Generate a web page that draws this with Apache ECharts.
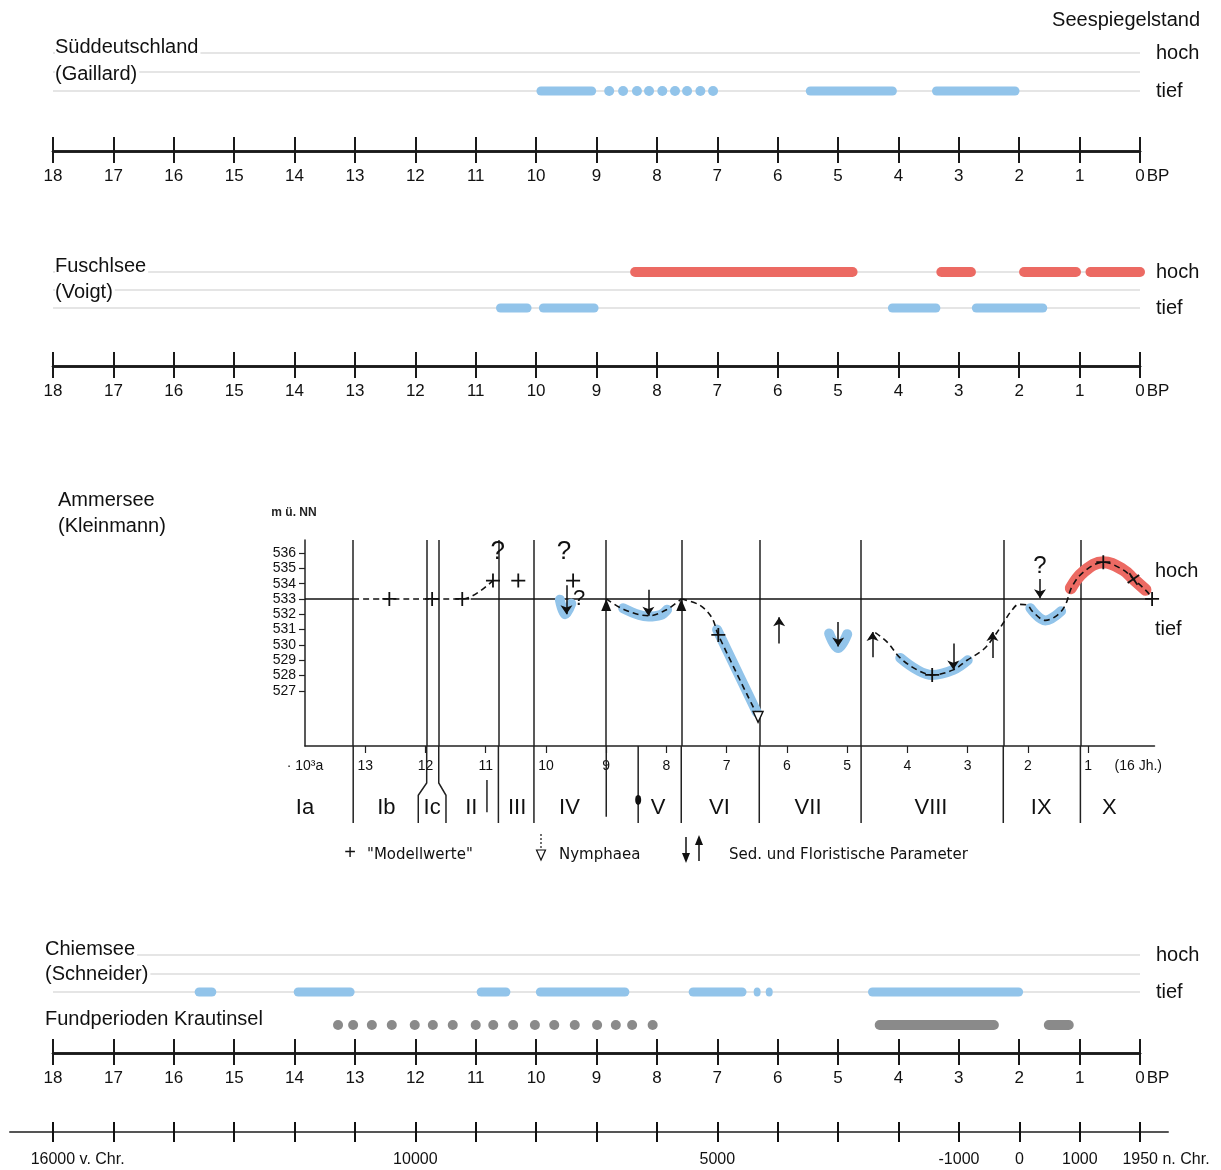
<!DOCTYPE html>
<html><head><meta charset="utf-8">
<script src="https://cdn.jsdelivr.net/npm/echarts@6/dist/echarts.min.js"></script>
<style>html,body{margin:0;padding:0;background:#fff}#c{width:1221px;height:1170px}</style>
</head><body><div id="c"></div>
<script>
// ---------- data (ka BP) ----------
const levelLabels = ['tief', '', 'hoch'];
const bpTickValues = [18,17,16,15,14,13,12,11,10,9,8,7,6,5,4,3,2,1,0];

const suedBlueBars = [[9.92, 9.08], [5.46, 4.10], [3.37, 2.07]];
const suedBlueDots = [8.79, 8.56, 8.33, 8.13, 7.91, 7.70, 7.50, 7.28, 7.07];

const fuschlRedBars = [[8.36, 4.76], [3.29, 2.80], [1.92, 1.06], [0.82, 0.0]];
const fuschlBlueBars = [[10.59, 10.15], [9.88, 9.04], [4.10, 3.38], [2.71, 1.61]];

const chiemBlueBars = [[15.58, 15.37], [13.94, 13.08], [10.91, 10.50], [9.93, 8.53], [7.40, 6.59], [4.43, 2.01]];
const chiemBlueDots = [6.34, 6.14];
const krautDots = [13.28, 13.03, 12.72, 12.39, 12.01, 11.71, 11.38, 11.0, 10.71, 10.38, 10.02, 9.70, 9.36, 8.99, 8.68, 8.41, 8.07];
const krautBars = [[4.31, 2.42], [1.51, 1.18]];

const calTickBP = [18, 12, 7, 3, 2, 1, 0];
const calTickLabels = ['16000 v. Chr.', '10000', '5000', '-1000', '0', '1000', '1950 n. Chr.'];

// ---------- Ammersee (Kleinmann), x in 10^3 a, y in m ü. NN ----------
const ammXLabelVals = [14, 13, 12, 11, 10, 9, 8, 7, 6, 5, 4, 3, 2, 1, 0.17];
const ammXLabels = ['· 10³a', '13', '12', '11', '10', '9', '8', '7', '6', '5', '4', '3', '2', '1', '(16 Jh.)'];
const ammXTicks = [13, 12, 11, 10, 9, 8, 7, 6, 5, 4, 3, 2, 1];
const ammYTicks = [527, 528, 529, 530, 531, 532, 533, 534, 535, 536];
const ammRefLine = [[[14, 533], [13.2, 533]], [[11.25, 533], [-0.06, 533]]];
const ammModelCurves = [
  [[13.2, 533], [12.6, 533], [11.89, 533], [11.39, 533], [10.88, 534.2]],
  [[9.0, 533], [8.7, 532.3], [8.3, 531.9], [8.0, 532.3], [7.755, 533]],
  [[7.755, 533], [7.45, 532.6], [7.25, 531.8], [7.14, 530.65], [6.48, 525.3]],
  [[4.535, 530.8], [4.34, 530.2], [4.12, 529.15], [3.84, 528.37], [3.59, 528.04], [3.24, 528.37], [3.01, 529.0],
   [2.74, 529.7], [2.58, 530.45], [2.41, 531.43], [2.28, 532.2], [2.15, 532.65], [2.01, 532.6], [1.93, 532.2],
   [1.71, 531.6], [1.51, 531.95], [1.38, 532.6], [1.27, 533.8], [1.08, 534.76], [0.75, 535.4], [0.42, 534.9],
   [0.25, 534.3], [0.02, 533.46], [-0.06, 533]]
];
const ammBlueBands = [
  [[9.77, 532.95], [9.68, 532.0], [9.58, 532.7]],
  [[8.72, 532.4], [8.45, 531.95], [8.3, 531.85], [8.1, 531.95], [7.99, 532.3]],
  [[7.16, 531.0], [6.5, 525.6]],
  [[5.30, 530.75], [5.15, 529.8], [5.0, 530.7]],
  [[4.12, 529.15], [3.84, 528.37], [3.59, 528.04], [3.24, 528.37], [3.0, 529.0]],
  [[1.96, 532.4], [1.71, 531.6], [1.45, 532.2]]
];
const ammRedBands = [
  [[1.29, 533.7], [1.08, 534.76], [0.75, 535.4], [0.42, 534.9], [0.25, 534.3], [0.05, 533.6]]
];
const ammModelPoints = [[12.6, 533], [11.89, 533], [11.39, 533], [10.88, 534.2], [10.46, 534.2], [9.55, 534.2],
  [7.14, 530.65], [3.59, 528.04], [0.75, 535.4], [0.25, 534.3], [-0.06, 533]];
const ammDownArrows = [[9.66, 533.9, 532.0], [8.30, 533.6, 531.9], [5.15, 531.5, 529.9], [3.24, 530.1, 528.4], [1.8, 534.3, 533.05]];
const ammUpArrows = [[6.13, 530.1, 531.8], [4.58, 529.2, 530.85], [2.59, 529.15, 530.85]];
const ammUpTriangles = [[9.0, 532.6], [7.755, 532.6]];
const ammNymphaea = [[6.48, 525.3]];
const ammQuestions = [[10.8, 536.1, 26], [9.7, 536.1, 26], [9.45, 533.0, 22], [1.8, 535.1, 24]];
const ammZoneBounds = [13.2, 11.98, 11.78, 10.79, 10.2, 9.0, 7.755, 6.46, 4.77, 2.41, 1.13];
const ammZoneLower = [
  [[13.2, 1], [13.2, 0]],
  [[11.98, 1], [11.98, 0.52], [12.12, 0.36], [12.12, 0]],
  [[11.78, 1], [11.78, 0.52], [11.66, 0.36], [11.66, 0]],
  [[10.98, 0.56], [10.98, 0.14]],
  [[10.79, 1], [10.79, 0]],
  [[10.2, 1], [10.2, 0]],
  [[9.0, 1], [9.0, 0.08]],
  [[8.47, 1], [8.47, 0]],
  [[7.755, 1], [7.755, 0]],
  [[6.46, 1], [6.46, 0]],
  [[4.77, 1], [4.77, 0]],
  [[2.41, 1], [2.41, 0]],
  [[1.13, 1], [1.13, 0]]
];
const ammZoneNames = ['Ia', 'Ib', 'Ic', 'II', 'III', 'IV', 'V', 'VI', 'VII', 'VIII', 'IX', 'X'];
const ammZoneCenters = [14.0, 12.65, 11.89, 11.24, 10.48, 9.61, 8.14, 7.12, 5.65, 3.61, 1.78, 0.65];
const ammZoneDots = [[8.47, 0.30]];

// ---------- style ----------
const FONT = '"Liberation Sans", Arial, sans-serif';
const BLUE = '#92c4ea', RED = '#ec6a63', GRAY = '#8a8a8a', LEVEL = '#dcdcdc', INK = '#111';
const AMM_YMIN = 523.4, AMM_YMAX = 536.85;

const ctx = document.createElement('canvas').getContext('2d');
function textW(t, size) { ctx.font = size + 'px "Liberation Sans"'; return ctx.measureText(t).width; }

const bpRich = {
  n: { fontSize: 17, fontFamily: FONT, color: INK },
  p: { width: textW('BP', 17) + 2 },
  s: { fontSize: 17, fontFamily: FONT, color: INK, padding: [0, 0, 0, 2] }
};
function bpFmt(v) { return v === 0 ? '{p|}{n|0}{s|BP}' : String(v); }

const calRich = {
  n: { fontSize: 16, fontFamily: FONT, color: INK },
  p1: { width: textW(' v. Chr.', 16) },
  p2: { width: textW(' n. Chr.', 16) },
  s: { fontSize: 16, fontFamily: FONT, color: INK }
};
function calFmt(v) {
  const i = calTickBP.indexOf(v);
  if (i < 0) return '';
  const lbl = calTickLabels[i];
  const k = lbl.indexOf(' ');
  if (k < 0) return '{n|' + lbl + '}';
  const suf = lbl.slice(k);
  return '{' + (suf.indexOf('v.') >= 0 ? 'p1' : 'p2') + '|}{n|' + lbl.slice(0, k) + '}{s|' + suf + '}';
}
const calEdgeBP = calTickBP.filter((v, i) => calTickLabels[i].indexOf(' ') >= 0);
const calInnerBP = calTickBP.filter((v, i) => calTickLabels[i].indexOf(' ') < 0);

function bpAxes(grid, offset) {
  const base = { gridIndex: grid, type: 'value', min: 0, max: 18, interval: 1, inverse: true, position: 'bottom', offset,
    axisLine: { show: true, onZero: false, lineStyle: { color: '#1a1a1a', width: 2.5 } }, splitLine: { show: false } };
  return [
    Object.assign({}, base, {
      axisTick: { show: true, inside: true, length: 14, lineStyle: { color: '#1a1a1a', width: 2 } },
      axisLabel: { show: true, margin: 17, formatter: bpFmt, rich: bpRich, color: INK, fontSize: 17, fontFamily: FONT,
        showMinLabel: true, showMaxLabel: true }
    }),
    Object.assign({}, base, {
      axisTick: { show: true, inside: false, length: 12, lineStyle: { color: '#1a1a1a', width: 2 } },
      axisLabel: { show: false }
    })
  ];
}
function levelAxis(grid) {
  return { gridIndex: grid, type: 'value', min: 0, max: 2, interval: 1, position: 'right',
    axisLine: { show: false, onZero: false }, axisTick: { show: false },
    axisLabel: { formatter: v => levelLabels[v] || '', margin: 16, fontSize: 20, color: INK, fontFamily: FONT, align: 'left' },
    splitLine: { show: true, lineStyle: { color: LEVEL, width: 1.5 } } };
}
function barSeries(arr, y, color, xi, yi, w) {
  return arr.map(([a, b]) => ({ type: 'line', xAxisIndex: xi, yAxisIndex: yi, data: [[a, y], [b, y]], symbol: 'none',
    lineStyle: { color, width: w, cap: 'round' }, silent: true, z: 3, clip: false }));
}
function dotSeries(arr, y, color, xi, yi, size) {
  return { type: 'scatter', xAxisIndex: xi, yAxisIndex: yi, data: arr.map(v => [v, y]), symbolSize: size,
    itemStyle: { color, opacity: 1 }, silent: true, z: 3 };
}
function polySeries(list, style, xi, yi, smooth, z) {
  return list.map(d => ({ type: 'line', xAxisIndex: xi, yAxisIndex: yi, data: d, symbol: 'none', smooth,
    lineStyle: style, silent: true, z, clip: false }));
}
const calLabelBase = { show: true, formatter: calFmt, rich: calRich, margin: 20, fontSize: 16, fontFamily: FONT, color: INK,
  showMinLabel: true, showMaxLabel: true, hideOverlap: false };

const xAxis = [
  ...bpAxes(0, 60),                        // 0,1
  ...bpAxes(1, 58),                        // 2,3
  { gridIndex: 2, type: 'value', min: -0.1, max: 14, inverse: true, position: 'bottom',   // 4
    axisLine: { show: true, onZero: false, lineStyle: { color: '#222', width: 1.5 } },
    axisTick: { show: true, customValues: ammXTicks, length: 7, lineStyle: { color: '#222', width: 1.2 } },
    axisLabel: { show: true, customValues: ammXLabelVals, margin: 13, fontSize: 14, fontFamily: FONT, color: INK,
      showMinLabel: true, showMaxLabel: true,
      formatter: v => { const i = ammXLabelVals.indexOf(v); return i >= 0 ? ammXLabels[i] : ''; } },
    splitLine: { show: false } },
  { gridIndex: 3, type: 'value', min: -0.1, max: 14, inverse: true, show: false },        // 5
  ...bpAxes(4, 61),                        // 6,7
  { gridIndex: 5, type: 'value', min: 0, max: 18, inverse: true, show: false },          // 8
  { gridIndex: 6, type: 'value', min: -0.46, max: 18.71, inverse: true, position: 'bottom', // 9
    axisLine: { show: true, onZero: false, lineStyle: { color: '#555', width: 2 } },
    axisTick: { show: true, inside: true, customValues: bpTickValues, length: 10, lineStyle: { color: '#111', width: 2 } },
    axisLabel: Object.assign({ customValues: calInnerBP }, calLabelBase),
    splitLine: { show: false } },
  { gridIndex: 6, type: 'value', min: -0.46, max: 18.71, inverse: true, position: 'bottom', // 10
    axisLine: { show: false, onZero: false },
    axisTick: { show: true, inside: false, customValues: bpTickValues, length: 10, lineStyle: { color: '#111', width: 2 } },
    axisLabel: Object.assign({ customValues: calEdgeBP }, calLabelBase),
    splitLine: { show: false } }
];

const yAxis = [
  levelAxis(0),
  levelAxis(1),
  { gridIndex: 2, type: 'value', min: AMM_YMIN, max: AMM_YMAX, position: 'left',
    name: 'm ü. NN', nameLocation: 'end', nameGap: 21,
    nameTextStyle: { fontSize: 12, fontWeight: 'bold', fontFamily: FONT, color: '#222', align: 'center', padding: [0, 22, 0, 0] },
    axisLine: { show: true, onZero: false, lineStyle: { color: '#222', width: 1.5 } },
    axisTick: { show: true, customValues: ammYTicks, length: 6, lineStyle: { color: '#222', width: 1.2 } },
    axisLabel: { show: true, customValues: ammYTicks, margin: 9, fontSize: 14, fontFamily: FONT, color: INK },
    splitLine: { show: false } },
  { gridIndex: 3, type: 'value', min: 0, max: 1, show: false },
  levelAxis(4),
  { gridIndex: 5, type: 'value', min: 0, max: 1, show: false },
  { gridIndex: 6, type: 'value', min: 0, max: 1, show: false }
];

const grid = [
  { left: 53, top: 53, width: 1087, height: 38 },
  { left: 53, top: 272, width: 1087, height: 36 },
  { left: 305, top: 540, width: 849.5, height: 206 },
  { left: 305, top: 746, width: 849.5, height: 77 },
  { left: 53, top: 955, width: 1087, height: 37 },
  { left: 53, top: 1015, width: 1087, height: 20 },
  { left: 10, top: 1100, width: 1158, height: 32 }
];

const series = [
  // Süddeutschland
  ...barSeries(suedBlueBars, 0, BLUE, 0, 0, 9),
  dotSeries(suedBlueDots, 0, BLUE, 0, 0, 10),
  // Fuschlsee
  ...barSeries(fuschlRedBars, 2, RED, 2, 1, 10),
  ...barSeries(fuschlBlueBars, 0, BLUE, 2, 1, 9),
  // Ammersee
  { type: 'lines', coordinateSystem: 'cartesian2d', xAxisIndex: 4, yAxisIndex: 2, polyline: false, silent: true, z: 2,
    data: ammZoneBounds.map(v => ({ coords: [[v, AMM_YMAX], [v, AMM_YMIN]] })),
    lineStyle: { color: '#222', width: 1.5, opacity: 1 } },
  ...polySeries(ammRefLine, { color: '#111', width: 1.6 }, 4, 2, false, 2),
  ...polySeries(ammBlueBands, { color: BLUE, width: 10, cap: 'round', join: 'round' }, 4, 2, 0.4, 3),
  ...polySeries(ammRedBands, { color: RED, width: 12, cap: 'round', join: 'round' }, 4, 2, 0.4, 3),
  ...polySeries(ammModelCurves, { color: '#111', width: 1.6, type: [6, 4] }, 4, 2, 0.35, 4),
  { type: 'lines', coordinateSystem: 'cartesian2d', xAxisIndex: 4, yAxisIndex: 2, silent: true, z: 5,
    data: ammDownArrows.concat(ammUpArrows).map(a => ({ coords: [[a[0], a[1]], [a[0], a[2]]] })),
    symbol: ['none', 'arrow'], symbolSize: 9, lineStyle: { color: '#111', width: 1.5, opacity: 1 } },
  { type: 'scatter', xAxisIndex: 4, yAxisIndex: 2, silent: true, z: 5, data: ammUpTriangles,
    symbol: 'triangle', symbolSize: [10, 12], itemStyle: { color: '#111', opacity: 1 } },
  { type: 'scatter', xAxisIndex: 4, yAxisIndex: 2, silent: true, z: 6, data: ammNymphaea,
    symbol: 'triangle', symbolRotate: 180, symbolSize: [10, 11], itemStyle: { color: '#fff', borderColor: '#111', borderWidth: 1.4, opacity: 1 } },
  { type: 'scatter', xAxisIndex: 4, yAxisIndex: 2, silent: true, z: 6, clip: false,
    data: ammModelPoints.map((p, i) => (i === 9 ? { value: p, symbolRotate: 35 } : p)),
    symbol: 'path://M6,0L6,12M0,6L12,6', symbolSize: 14,
    itemStyle: { color: 'transparent', borderColor: '#111', borderWidth: 1.8, opacity: 1 } },
  { type: 'scatter', xAxisIndex: 4, yAxisIndex: 2, silent: true, z: 6,
    data: ammQuestions.map(q => ({ value: [q[0], q[1]], label: { fontSize: q[2] } })),
    symbolSize: 1, itemStyle: { color: 'transparent', opacity: 1 },
    label: { show: true, position: 'inside', formatter: '?', color: '#111', fontFamily: FONT } },
  { type: 'lines', coordinateSystem: 'cartesian2d', xAxisIndex: 5, yAxisIndex: 3, polyline: true, silent: true, z: 2,
    data: ammZoneLower.map(c => ({ coords: c })), lineStyle: { color: '#222', width: 1.5, opacity: 1 } },
  { type: 'scatter', xAxisIndex: 5, yAxisIndex: 3, silent: true, z: 3, data: ammZoneDots,
    symbol: 'circle', symbolSize: [6, 10], itemStyle: { color: '#111', opacity: 1 } },
  { type: 'scatter', xAxisIndex: 5, yAxisIndex: 3, silent: true, z: 3, clip: false,
    data: ammZoneNames.map((n, i) => ({ name: n, value: [ammZoneCenters[i], 0.2] })),
    symbolSize: 1, itemStyle: { color: 'transparent', opacity: 1 },
    label: { show: true, position: 'inside', formatter: '{b}', fontSize: 22, color: '#111', fontFamily: FONT } },
  // Chiemsee
  ...barSeries(chiemBlueBars, 0, BLUE, 6, 4, 9),
  { type: 'scatter', xAxisIndex: 6, yAxisIndex: 4, data: chiemBlueDots.map(v => [v, 0]), symbolSize: [7, 9],
    itemStyle: { color: BLUE, opacity: 1 }, silent: true, z: 3 },
  dotSeries(krautDots, 0.5, GRAY, 8, 5, 10),
  ...barSeries(krautBars, 0.5, GRAY, 8, 5, 10)
];

function txt(t, x, y, opt) {
  return { type: 'text', x, y, z: 10, style: Object.assign({ text: t, fill: INK, fontSize: 20, fontFamily: FONT,
    verticalAlign: 'middle', align: 'left' }, opt || {}) };
}
const BG = { backgroundColor: '#fff', padding: [0, 2, 0, 0] };
const LEG = { fontSize: 15, fontFamily: '"DejaVu Sans", sans-serif' };
const graphic = [
  txt('Seespiegelstand', 1200, 20, { align: 'right' }),
  txt('Süddeutschland', 55, 47, BG), txt('(Gaillard)', 55, 74, BG),
  txt('Fuschlsee', 55, 266, BG), txt('(Voigt)', 55, 292, BG),
  txt('Ammersee', 58, 500), txt('(Kleinmann)', 58, 526),
  txt('hoch', 1155, 571), txt('tief', 1155, 629),
  txt('Chiemsee', 45, 949, BG), txt('(Schneider)', 45, 974, BG),
  txt('Fundperioden Krautinsel', 45, 1019),
  txt('+', 350, 853, { fontSize: 20, align: 'center' }),
  txt('"Modellwerte"', 367, 855, LEG),
  { type: 'line', z: 10, shape: { x1: 541, y1: 834, x2: 541, y2: 849 }, style: { stroke: '#111', lineWidth: 1.2, lineDash: [2, 2] } },
  { type: 'polygon', z: 10, shape: { points: [[536.5, 850], [545.5, 850], [541, 860]] }, style: { fill: '#fff', stroke: '#111', lineWidth: 1.2 } },
  txt('Nymphaea', 559, 855, LEG),
  { type: 'line', z: 10, shape: { x1: 686, y1: 837, x2: 686, y2: 855 }, style: { stroke: '#111', lineWidth: 1.5 } },
  { type: 'polygon', z: 10, shape: { points: [[682, 853], [690, 853], [686, 863]] }, style: { fill: '#111' } },
  { type: 'line', z: 10, shape: { x1: 699, y1: 861, x2: 699, y2: 843 }, style: { stroke: '#111', lineWidth: 1.5 } },
  { type: 'polygon', z: 10, shape: { points: [[695, 845], [703, 845], [699, 835]] }, style: { fill: '#111' } },
  txt('Sed. und Floristische Parameter', 729, 855, LEG)
];

const chart = echarts.init(document.getElementById('c'), null, { renderer: 'canvas' });
chart.setOption({ animation: false, backgroundColor: '#fff', grid, xAxis, yAxis, series, graphic });
</script></body></html>
